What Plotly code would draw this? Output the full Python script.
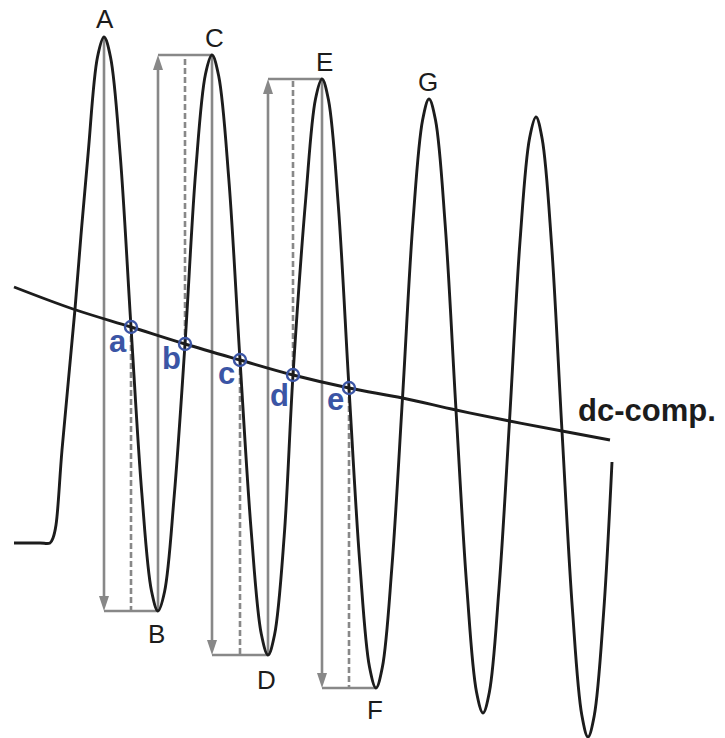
import plotly.graph_objects as go

# ---------------------------------------------------------------------------
# Waveform samples: t runs left to right, v is the level measured downward
# ---------------------------------------------------------------------------
wave_t = [14, 40, 50, 53, 56, 62, 75, 81, 88, 97.5, 104,
          110.5, 120.2, 131, 141.8, 151.5, 158,
          164.5, 174.2, 185, 195.8, 205.5, 212,
          218.7, 228.8, 240, 251.2, 261.3, 268,
          274.5, 284.2, 293, 305.8, 315.5, 322,
          328.5, 338.2, 349, 359.8, 369.5, 376,
          382.4, 391.9, 402.5, 413.1, 422.6, 429,
          435.5, 445.2, 456, 466.8, 476.5, 483,
          489.4, 498.9, 509.5, 520.1, 529.6, 536,
          542.2, 551.6, 562, 572.4, 581.8, 588,
          594.2, 603.6, 612]
wave_v = [543, 543, 543, 538, 525, 450, 309, 235, 155, 57, 37,
          57, 155, 327, 493, 591, 611,
          592, 496, 344, 170, 74, 55,
          76, 179, 360, 531, 634, 655,
          635, 536, 375, 198, 99, 79,
          100, 204, 388, 563, 667, 688,
          667, 567, 398, 220, 120, 99,
          120, 225, 410, 587, 692, 713,
          692, 590, 421, 240, 138, 117,
          139, 245, 431, 609, 715, 737,
          716, 613, 462]

# Labelled extremes of the waveform
ext_names = ["A", "B", "C", "D", "E", "F", "G"]
ext_t = [104, 158, 212, 268, 322, 376, 429]
ext_v = [37, 611, 55, 655, 79, 688, 99]

# Slowly drifting dc component
dc_t = [14, 73, 131, 185, 240, 293, 349, 402.5, 456, 509.5, 562, 610]
dc_v = [287, 309, 327, 344, 360, 375, 388, 398, 410, 421, 431, 440]

# Crossings of the waveform with the dc component
cross_names = ["a", "b", "c", "d", "e"]
cross_t = [131, 185, 240, 293, 349]
cross_v = [327, 344, 360, 375, 388]

dc_name = "dc-comp."

# ---------------------------------------------------------------------------
# Styling
# ---------------------------------------------------------------------------
INK = "#1c1c1c"
GREY = "#888888"
BLUE = "#3b55a5"
FONT = "Liberation Sans, Arial, Helvetica, sans-serif"
HEAD_LEN = 15
HEAD_HALF = 5

# label offsets (pixels) for the extremes and the crossings
ext_dx = [1, -2, 2, -2, 2, -1, -1]
ext_dy = [18, -23, 17, -25, 17, -22, 17]
cross_dx = -13.5
cross_dy = [-14, -14, -13, -20, -11]

fig = go.Figure()

shapes = []
for k in range(5):
    x0, v_from = ext_t[k], ext_v[k]
    x1, v_to = ext_t[k + 1], ext_v[k + 1]
    d = 1 if v_to > v_from else -1
    # arrow shaft from one extreme to the level of the next one
    shapes.append(dict(type="line", xref="x", yref="y", layer="below",
                       x0=x0, x1=x0, y0=v_from, y1=v_to - d * HEAD_LEN * 0.6,
                       line=dict(color=GREY, width=2.6)))
    # arrow head
    base = v_to - d * HEAD_LEN
    shapes.append(dict(type="path", xref="x", yref="y", layer="below",
                       path=f"M {x0},{v_to} L {x0 - HEAD_HALF},{base} "
                            f"L {x0 + HEAD_HALF},{base} Z",
                       fillcolor=GREY, line=dict(width=0)))
    # level line of the next extreme
    shapes.append(dict(type="line", xref="x", yref="y", layer="below",
                       x0=x0, x1=x1, y0=v_to, y1=v_to,
                       line=dict(color=GREY, width=2.6)))
    # dashed drop from the crossing to that level
    shapes.append(dict(type="line", xref="x", yref="y", layer="below",
                       x0=cross_t[k], x1=cross_t[k], y0=cross_v[k], y1=v_to,
                       line=dict(color=GREY, width=2.6, dash="6px,3px")))

fig.add_trace(go.Scatter(x=wave_t, y=wave_v, mode="lines",
                         line=dict(color=INK, width=2.9, shape="spline",
                                   smoothing=1.0),
                         hoverinfo="skip"))
fig.add_trace(go.Scatter(x=dc_t, y=dc_v, mode="lines",
                         line=dict(color=INK, width=2.9, shape="spline",
                                   smoothing=1.0),
                         hoverinfo="skip"))
fig.add_trace(go.Scatter(x=cross_t, y=cross_v, mode="markers",
                         marker=dict(symbol="circle-open", size=12,
                                     color=BLUE, line=dict(width=2.4)),
                         hoverinfo="skip"))

annotations = []
for name, t, v, dx, dy in zip(ext_names, ext_t, ext_v, ext_dx, ext_dy):
    annotations.append(dict(x=t, y=v, xref="x", yref="y", text=name,
                            showarrow=False, xanchor="center",
                            yanchor="middle", xshift=dx, yshift=dy,
                            font=dict(family=FONT, size=26, color=INK)))
for name, t, v, dy in zip(cross_names, cross_t, cross_v, cross_dy):
    annotations.append(dict(x=t, y=v, xref="x", yref="y",
                            text=f"<b>{name}</b>", showarrow=False,
                            xanchor="center", yanchor="middle",
                            xshift=cross_dx, yshift=dy,
                            font=dict(family=FONT, size=31, color=BLUE)))
annotations.append(dict(x=dc_t[-1], y=dc_v[-1], xref="x", yref="y",
                        text=f"<b>{dc_name}</b>", showarrow=False,
                        xanchor="left", yanchor="middle",
                        xshift=-34, yshift=30,
                        font=dict(family=FONT, size=31, color=INK)))

fig.update_layout(
    width=725, height=738,
    margin=dict(l=0, r=0, t=0, b=0),
    paper_bgcolor="white", plot_bgcolor="white",
    showlegend=False,
    xaxis=dict(range=[0, 725], visible=False, fixedrange=True),
    yaxis=dict(range=[738, 0], visible=False, fixedrange=True),
    shapes=shapes,
    annotations=annotations,
)

fig.write_html("out.html", config={"displayModeBar": False})
